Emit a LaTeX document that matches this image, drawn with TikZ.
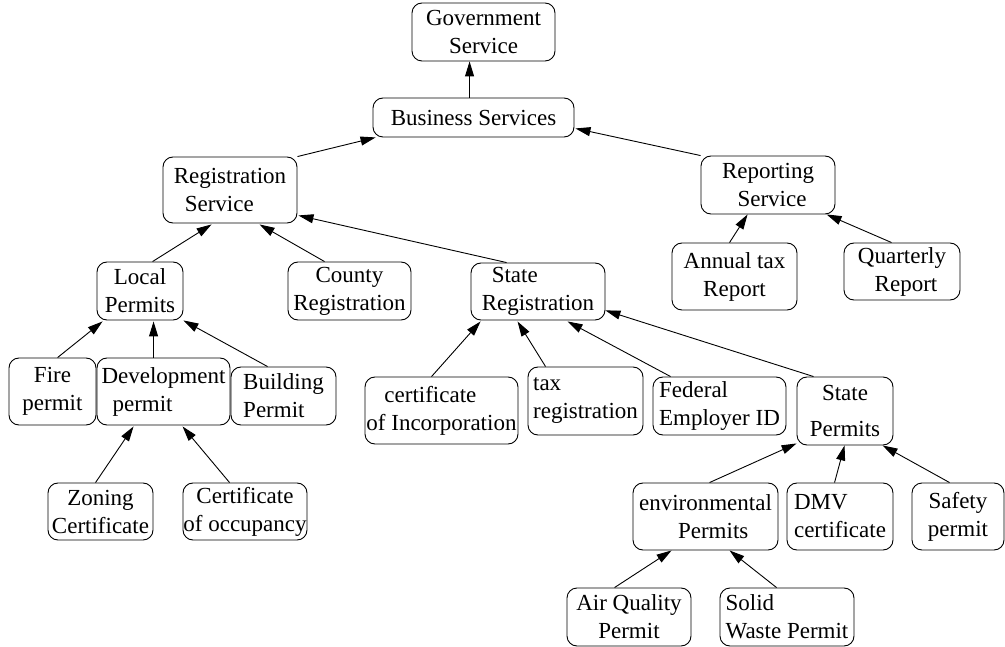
\documentclass[tikz,border=0pt]{standalone}
\usepackage{fontspec}
\setmainfont{Liberation Serif}
\usetikzlibrary{calc,arrows.meta}
\begin{document}
\begin{tikzpicture}[x=1pt,y=-1pt,
  box/.style={draw,rounded corners=10pt,line width=0.9pt,inner sep=0pt,
    font=\fontsize{23}{28}\selectfont},
  edge/.style={line width=0.9pt,-{Triangle[length=15pt,width=9pt]}}]
\useasboundingbox (0,0) rectangle (1005,647);
% nodes
\node[box,minimum width=143pt,minimum height=58pt,align=center] (gov) at (483.5,32) {Government\\Service};
\node[box,minimum width=201pt,minimum height=39pt,align=center] (biz) at (473.5,117.5) {Business Services};
\node[box,minimum width=134pt,minimum height=66pt,align=left] (reg) at (230,190) {Registration\\\hspace*{11pt}Service};
\node[box,minimum width=134pt,minimum height=58pt,align=center] (rep) at (768,185) {Reporting\\\hspace*{8pt}Service};
\node[box,minimum width=125pt,minimum height=67pt,align=center] (ann) at (734.5,276.5) {Annual tax\\Report};
\node[box,minimum width=116pt,minimum height=57pt,align=center] (qua) at (902,271.5) {Quarterly\\\hspace*{8pt}Report};
\node[box,minimum width=86pt,minimum height=58pt,align=center] (loc) at (140,291) {Local\\Permits};
\node[box,minimum width=123pt,minimum height=58pt,align=center] (cty) at (349.5,291) {County\\Registration};
\node[box,minimum width=134pt,minimum height=57pt,align=left] (str) at (538,291.5) {\hspace*{10pt}State\\Registration};
\node[box,minimum width=87pt,minimum height=67pt,align=center] (fir) at (52.5,391.5) {Fire\\permit};
\node[box,minimum width=133pt,minimum height=67pt,align=left] (dev) at (163.5,391.5) {Development\\\hspace*{11pt}permit};
\node[box,minimum width=105pt,minimum height=58pt,align=left] (bld) at (283.5,396) {Building\\Permit};
\node[box,minimum width=105pt,minimum height=57pt,align=center] (zon) at (100.5,511.5) {Zoning\\Certificate};
\node[box,minimum width=124pt,minimum height=57pt,align=center] (occ) at (245,511.5) {Certificate\\of occupancy};
\node[box,minimum width=153pt,minimum height=67pt,align=left] (inc) at (441.5,410.5) {\hspace*{18pt}certificate\\of Incorporation};
\node[box,minimum width=115pt,minimum height=68pt,align=left] (tax) at (585.5,401) {tax\\registration};
\node[box,minimum width=133pt,minimum height=58pt,align=left] (fed) at (719.5,406) {Federal\\Employer ID};
\node[box,minimum width=96pt,minimum height=68pt,align=center] (stp) at (845,411) {State\\[8pt]Permits};
\node[box,minimum width=145pt,minimum height=67pt,align=left] (env) at (705.5,516.5) {environmental\\\hspace*{39pt}Permits};
\node[box,minimum width=106pt,minimum height=67pt,align=left] (dmv) at (840,516.5) {DMV\\certificate};
\node[box,minimum width=92pt,minimum height=67pt,align=center] (saf) at (958,516.5) {Safety\\permit};
\node[box,minimum width=124pt,minimum height=58pt,align=center] (air) at (629,617) {Air Quality\\Permit};
\node[box,minimum width=134pt,minimum height=58pt,align=left] (sol) at (787,617) {Solid\\Waste Permit};
% edges
\draw[edge] ($(biz.north west)+(97,0)$) -- ($(gov.south west)+(58,0)$);
\draw[edge] (reg.north east) -- ($(biz.south west)+(3,0)$);
\draw[edge] (rep.north west) -- ($(biz.south east)+(1,-9)$);
\draw[edge] ($(ann.north west)+(58,0)$) -- ($(rep.south west)+(47,0)$);
\draw[edge] ($(qua.north west)+(48,0)$) -- ($(rep.south west)+(126,0)$);
\draw[edge] ($(loc.north west)+(56,0)$) -- ($(reg.south west)+(49,1)$);
\draw[edge] ($(cty.north west)+(37,0)$) -- ($(reg.south west)+(97,1)$);
\draw[edge] ($(str.north west)+(36,0)$) -- ($(reg.south east)+(1,-8)$);
\draw[edge] ($(fir.north west)+(49,0)$) -- ($(loc.south west)+(6,1)$);
\draw[edge] ($(dev.north west)+(57,0)$) -- ($(loc.south west)+(57,1)$);
\draw[edge] ($(bld.north west)+(37,0)$) -- (loc.south east);
\draw[edge] ($(zon.north west)+(48,0)$) -- ($(dev.south west)+(37,1)$);
\draw[edge] ($(occ.north west)+(47,0)$) -- ($(dev.south west)+(86,1)$);
\draw[edge] ($(inc.north west)+(67,0)$) -- ($(str.south west)+(10,1)$);
\draw[edge] ($(tax.north west)+(18,0)$) -- ($(str.south west)+(47,1)$);
\draw[edge] ($(fed.north west)+(18,0)$) -- ($(str.south west)+(97,1)$);
\draw[edge] ($(stp.north west)+(17,0)$) -- ($(str.south east)+(0,-10)$);
\draw[edge] ($(env.north west)+(77,0)$) -- ($(stp.south west)+(0,-2)$);
\draw[edge] ($(dmv.north west)+(48,0)$) -- ($(stp.south west)+(48,0)$);
\draw[edge] ($(saf.north west)+(38,0)$) -- ($(stp.south west)+(86,0)$);
\draw[edge] ($(air.north west)+(48,0)$) -- ($(env.south west)+(39,0)$);
\draw[edge] ($(sol.north west)+(57,0)$) -- ($(env.south west)+(97,0)$);
\end{tikzpicture}
\end{document}
